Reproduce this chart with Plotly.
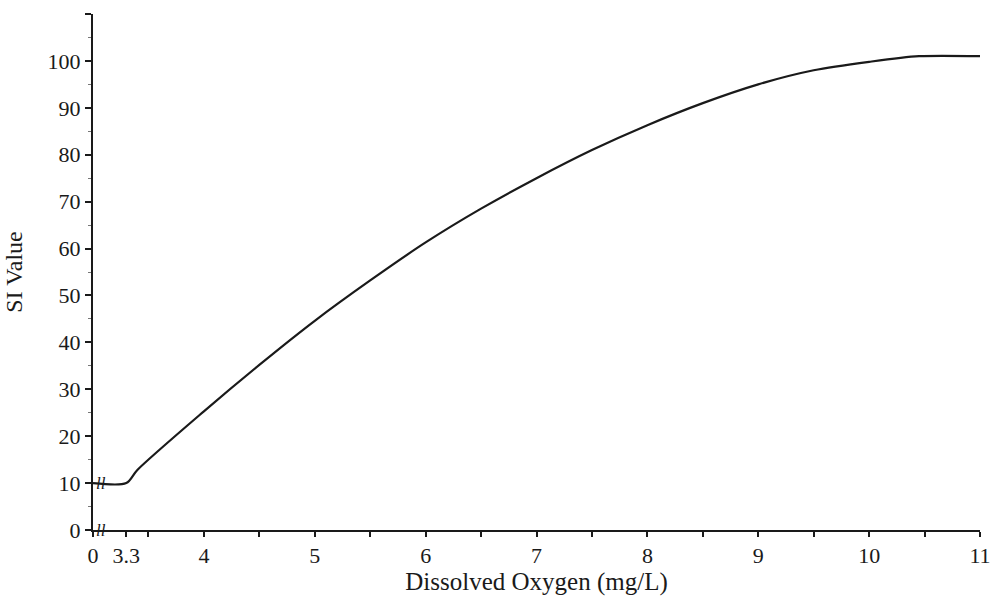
import plotly.graph_objects as go

# Data (x axis is broken between 0 and 3.3; axis origin drawn at x=3.0)
x_do = [3.0, 3.3, 3.4, 4.0, 4.5, 5.0, 5.5, 6.0, 6.5, 7.0, 7.5, 8.0, 8.5, 9.0, 9.5, 10.0, 10.45, 11.0]
si_value = [10, 10, 12.8, 25.3, 35.2, 44.6, 53.2, 61.3, 68.5, 75.0, 81.0, 86.3, 91.0, 95.0, 98.0, 99.8, 101.0, 101.0]

x_tickvals = [3.0, 3.3, 4, 5, 6, 7, 8, 9, 10, 11]
x_ticktext = ["0", "3.3", "4", "5", "6", "7", "8", "9", "10", "11"]
y_tickvals = [0, 10, 20, 30, 40, 50, 60, 70, 80, 90, 100, 110]
y_ticktext = ["0", "10", "20", "30", "40", "50", "60", "70", "80", "90", "100", ""]

# axis-break marks (x position just right of the axis, at y = 10 and y = 0)
break_x = 3.07
break_y = [10, 0]

FONT = "Liberation Serif"
INK = "#1a1a1a"

fig = go.Figure()
fig.add_trace(go.Scatter(
    x=x_do, y=si_value, mode="lines",
    line=dict(color=INK, width=2.2, shape="spline", smoothing=0.8),
    showlegend=False, hoverinfo="skip",
))

for by in break_y:
    fig.add_annotation(x=break_x, y=by, xref="x", yref="y", text="<i>ll</i>",
                       showarrow=False, font=dict(family=FONT, size=17, color=INK),
                       xanchor="center", yanchor="middle")

fig.update_layout(
    width=1003, height=603,
    margin=dict(l=93, r=21, t=14, b=73),
    paper_bgcolor="white", plot_bgcolor="white",
    font=dict(family=FONT, color=INK),
)

fig.update_xaxes(
    range=[3.0, 11.0],
    tickmode="array", tickvals=x_tickvals, ticktext=x_ticktext,
    ticks="outside", ticklen=5, tickwidth=1.5, tickcolor=INK,
    minor=dict(tickmode="linear", tick0=0, dtick=0.5, ticks="outside", ticklen=5, tickwidth=1.5, tickcolor=INK),
    showline=True, linecolor=INK, linewidth=2,
    showgrid=False, zeroline=False,
    tickfont=dict(family=FONT, size=22, color=INK),
    title=dict(text="Dissolved Oxygen (mg/L)", font=dict(family=FONT, size=25, color=INK), standoff=4),
)
fig.update_yaxes(
    range=[0, 110],
    tickmode="array", tickvals=y_tickvals, ticktext=y_ticktext,
    ticks="outside", ticklen=6, tickwidth=1.5, tickcolor=INK,
    minor=dict(tickmode="linear", tick0=0, dtick=5, ticks="outside", ticklen=3, tickwidth=1, tickcolor="#777"),
    showline=True, linecolor=INK, linewidth=2,
    showgrid=False, zeroline=False,
    tickfont=dict(family=FONT, size=22, color=INK),
    title=dict(text="SI Value", font=dict(family=FONT, size=24, color=INK), standoff=18),
)

fig.write_html("out.html")
